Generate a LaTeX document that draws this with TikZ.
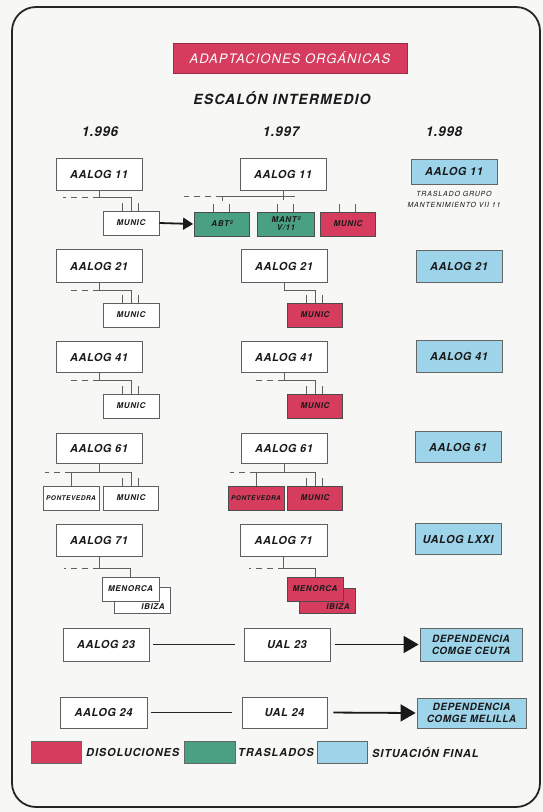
\documentclass[tikz,border=0pt]{standalone}
\usepackage{fontspec}
\newfontfamily\hfa{TeX Gyre Heros}[LetterSpace=5]
\newfontfamily\hfb{TeX Gyre Heros}[LetterSpace=8]
\newfontfamily\hfc{TeX Gyre Heros}[LetterSpace=12]
\usetikzlibrary{arrows.meta,calc}
\definecolor{bgc}{RGB}{247,247,245}
\definecolor{redc}{RGB}{213,60,93}
\definecolor{greenc}{RGB}{74,160,130}
\definecolor{bluec}{RGB}{158,212,234}
\definecolor{linec}{RGB}{95,95,95}
\definecolor{txtc}{RGB}{25,25,25}
\tikzset{
  ubox/.style={draw=linec, line width=0.8pt, fill=white, inner sep=0pt, text=txtc, align=center},
  bigbox/.style={ubox, minimum width=86pt, minimum height=32pt, font=\hfa\bfseries\itshape\fontsize{11}{13}\selectfont},
  smallbox/.style={ubox, minimum width=55pt, minimum height=24pt, font=\hfb\bfseries\itshape\fontsize{8}{8.5}\selectfont},
  redbox/.style={smallbox, fill=redc, draw=black!70},
  greenbox/.style={smallbox, fill=greenc, draw=black!70},
  bluebox/.style={bigbox, fill=bluec, draw=black!60},
  depbox/.style={ubox, fill=bluec, draw=black!60, minimum height=32pt, font=\hfa\bfseries\itshape\fontsize{10}{12}\selectfont},
  note/.style={inner sep=0pt, text=txtc, font=\hfc\itshape\fontsize{7}{8}\selectfont},
  conn/.style={draw=linec, line width=0.6pt},
  dashconn/.style={conn, dash pattern=on 6pt off 5pt},
  flowline/.style={draw=black!85, line width=1.4pt},
  bigarrow/.style={draw=black!90, line width=1.8pt, -{Triangle[length=15pt,width=17pt]}},
  smallarrow/.style={draw=black!90, line width=1.8pt, -{Triangle[length=10pt,width=12pt]}},
  legbox/.style={draw=black!60, line width=0.8pt, minimum width=50pt, minimum height=22pt, inner sep=0pt},
  legtext/.style={anchor=west, inner sep=0pt, text=txtc, font=\hfb\bfseries\itshape\fontsize{11}{13}\selectfont}
}
\newcommand\mypins[1]{\draw[conn] ([xshift=-9pt]#1.north) -- ++(0,-8) ([xshift=7pt]#1.north) -- ++(0,-8);}
\begin{document}
\begin{tikzpicture}[x=1pt,y=-1pt]
\useasboundingbox (0,0) rectangle (543,812);
\fill[bgc] (0,0) rectangle (543,812);
\draw[line width=1.8pt, draw=black!85, rounded corners=24pt] (12,7) rectangle (540,807);

% titles
\node[fill=redc, draw=redc!75!black, line width=0.5pt, minimum width=234pt, minimum height=30pt, inner sep=0pt, text=white, font=\hfb\itshape\fontsize{13}{15}\selectfont] (title) at (290,58) {ADAPTACIONES ORGÁNICAS};
\node[text=txtc, font=\hfb\bfseries\itshape\fontsize{14}{16}\selectfont] (sub) at (282,98) {ESCALÓN INTERMEDIO};
\node[text=txtc, font=\hfa\bfseries\itshape\fontsize{13.5}{15}\selectfont] (y96) at (100,132) {1.996};
\node[text=txtc, font=\hfa\bfseries\itshape\fontsize{13.5}{15}\selectfont] (y97) at (281,132) {1.997};
\node[text=txtc, font=\hfa\bfseries\itshape\fontsize{13.5}{15}\selectfont] (y98) at (444,132) {1.998};

% ---------- row 1 ----------
\node[bigbox] (p1a) at (99,174) {AALOG 11};
\node[smallbox, minimum width=56pt] (c1a) at (131,223) {MUNIC};
\node[bigbox] (p1b) at (283,174) {AALOG 11};
\node[greenbox] (abt) at (222,224) {ABTº};
\node[greenbox, minimum width=57pt, font=\hfb\bfseries\itshape\fontsize{8}{8}\selectfont] (mant) at (286,224) {MANTº\\V/11};
\node[redbox] (c1b) at (348,224) {MUNIC};
\node[bluebox, minimum height=25pt] (f1) at (454,171.5) {AALOG 11};
\node[note] (t1) at (454,194) {TRASLADO GRUPO};
\node[note] (t2) at (454,205) {MANTENIMIENTO VII 11};

\path (p1a.south) ++(0,7) coordinate (j1a);
\draw[conn] (p1a.south) -- (j1a) -| (c1a.north);
\draw[dashconn] (j1a) -- ++(-36,0);
\mypins{c1a}
\draw[smallarrow, shorten >=1pt] (c1a.east) -- (abt.west);

\path (p1b.south) ++(0,6) coordinate (j1b);
\draw[conn] (p1b.south) -- ++(0,10);
\draw[conn] (j1b -| abt.north) -- ([xshift=12pt]j1b);
\draw[dashconn] (j1b -| abt.north) -- ++(-38,0);
\draw[conn] (j1b -| abt.north) -- ++(0,5);
\mypins{abt}
\mypins{mant}
\mypins{c1b}

% ---------- row 2 ----------
\node[bigbox, minimum height=33pt] (p2a) at (99,266) {AALOG 21};
\node[smallbox, minimum width=56pt] (c2a) at (131,315) {MUNIC};
\node[bigbox, minimum height=33pt] (p2b) at (284,266) {AALOG 21};
\node[redbox] (c2b) at (315,315) {MUNIC};
\node[bluebox] (f2) at (459,266) {AALOG 21};

\path (p2a.south) ++(0,7) coordinate (j2a);
\draw[conn] (p2a.south) -- (j2a) -| (c2a.north);
\draw[dashconn] (j2a) -- ++(-33,0);
\mypins{c2a}
\path (p2b.south) ++(0,7) coordinate (j2b);
\draw[conn] (p2b.south) -- (j2b) -| (c2b.north);
\mypins{c2b}

% ---------- row 3 ----------
\node[bigbox, minimum height=31pt] (p3a) at (99,357) {AALOG 41};
\node[smallbox, minimum width=56pt] (c3a) at (131,406) {MUNIC};
\node[bigbox, minimum height=31pt] (p3b) at (284,357) {AALOG 41};
\node[redbox] (c3b) at (315,406) {MUNIC};
\node[bluebox] (f3) at (459,356) {AALOG 41};

\path (p3a.south) ++(0,7.5) coordinate (j3a);
\draw[conn] (p3a.south) -- (j3a) -| (c3a.north);
\draw[dashconn] (j3a) -- ++(-33,0);
\mypins{c3a}
\path (p3b.south) ++(0,7.5) coordinate (j3b);
\draw[conn] (p3b.south) -- (j3b) -| (c3b.north);
\draw[dashconn] (j3b) -- ++(-33,0);
\mypins{c3b}

% ---------- row 4 ----------
\node[bigbox, minimum height=30pt] (p4a) at (99,448) {AALOG 61};
\node[smallbox, minimum width=56pt, font=\hfb\bfseries\itshape\fontsize{6.5}{7}\selectfont] (pv4a) at (71,498) {PONTEVEDRA};
\node[smallbox] (c4a) at (131,498) {MUNIC};
\node[bigbox, minimum height=30pt] (p4b) at (284,448) {AALOG 61};
\node[redbox, minimum width=56pt, font=\hfb\bfseries\itshape\fontsize{6.5}{7}\selectfont] (pv4b) at (256,498) {PONTEVEDRA};
\node[redbox] (c4b) at (315,498) {MUNIC};
\node[bluebox, minimum height=31pt] (f4) at (458,447) {AALOG 61};

\path (p4a.south) ++(0,9) coordinate (j4a);
\draw[conn] (p4a.south) -- (j4a);
\draw[conn] (pv4a.north) |- (j4a) -| (c4a.north);
\draw[dashconn] (j4a -| pv4a.north) -- ++(-26,0);
\mypins{c4a}
\path (p4b.south) ++(0,9) coordinate (j4b);
\draw[conn] (p4b.south) -- (j4b);
\draw[conn] (pv4b.north) |- (j4b) -| (c4b.north);
\draw[dashconn] (j4b -| pv4b.north) -- ++(-26,0);
\mypins{c4b}

% ---------- row 5 ----------
\node[bigbox] (p5a) at (99,540) {AALOG 71};
\node[smallbox, minimum width=56pt, minimum height=26pt] (ib5a) at (142,600) {};
\node[smallbox, minimum width=57pt] (c5a) at (130.5,589) {MENORCA};
\node[inner sep=0pt, text=txtc, font=\hfb\bfseries\itshape\fontsize{8}{8.5}\selectfont] (ibt5a) at (153,606.5) {IBIZA};
\node[bigbox, minimum width=87pt] (p5b) at (283.5,540) {AALOG 71};
\node[redbox, minimum width=56pt, minimum height=25pt] (ib5b) at (327,600.5) {};
\node[redbox, minimum width=56pt] (c5b) at (315,589) {MENORCA};
\node[inner sep=0pt, text=txtc, font=\hfb\bfseries\itshape\fontsize{8}{8.5}\selectfont] (ibt5b) at (338,607) {IBIZA};
\node[bluebox, minimum height=31pt] (f5) at (458,539) {UALOG LXXI};

\path (p5a.south) ++(0,12) coordinate (j5a);
\draw[conn] (p5a.south) -- (j5a) -| (c5a.north);
\draw[dashconn] (j5a) -- ++(-35,0);
\path (p5b.south) ++(0,12) coordinate (j5b);
\draw[conn] (p5b.south) -- (j5b) -| (c5b.north);
\draw[dashconn] (j5b) -- ++(-35,0);

% ---------- row 6 ----------
\node[bigbox, minimum height=33pt] (a23) at (106,644.5) {AALOG 23};
\node[bigbox, minimum height=33pt] (u23) at (287,644.5) {UAL 23};
\node[depbox, minimum width=102pt, minimum height=33pt] (d23) at (471,644.5) {DEPENDENCIA\\COMGE CEUTA};
\draw[flowline, shorten <=4pt, shorten >=9pt] (a23.east) -- (u23.west);
\draw[bigarrow, shorten <=5pt, shorten >=1pt] (u23.east) -- (d23.west);

% ---------- row 7 ----------
\node[bigbox, minimum width=87pt, minimum height=31pt] (a24) at (103.5,712.5) {AALOG 24};
\node[bigbox, minimum width=85pt, minimum height=31pt] (u24) at (284.5,712.5) {UAL 24};
\node[depbox, minimum width=109pt, minimum height=30pt] (d24) at (471.5,713) {DEPENDENCIA\\COMGE MELILLA};
\draw[flowline, shorten <=4pt, shorten >=10pt] (a24.east) -- (u24.west);
\draw[bigarrow, shorten <=6pt, shorten >=1pt] (u24.east) -- (d24.west);

% ---------- legend ----------
\node[legbox, fill=redc] (l1) at (56,752) {};
\node[legtext] (lt1) at (86,752) {DISOLUCIONES};
\node[legbox, fill=greenc, minimum width=51pt] (l2) at (209.5,752) {};
\node[legtext] (lt2) at (238,752) {TRASLADOS};
\node[legbox, fill=bluec] (l3) at (342,752) {};
\node[legtext] (lt3) at (372,752) {SITUACIÓN FINAL};
\end{tikzpicture}
\end{document}
